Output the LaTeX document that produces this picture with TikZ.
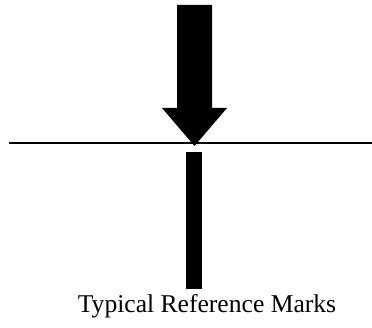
\documentclass[tikz,border=0pt]{standalone}
\usepackage{fontspec}
\setmainfont{Liberation Serif}
\usepackage{tikz}
\usetikzlibrary{positioning, calc}

\begin{document}
\begin{tikzpicture}[x=1pt, y=-1pt]
  \useasboundingbox (0, 0) rectangle (372, 328);

  % pointer arrow
  \fill[black] (177, 5) -- (212, 5) -- (212, 108) -- (227, 108) -- (194.5, 146) -- (162, 108) -- (177, 108) -- cycle;

  % reference line and mark
  \draw[line width=2.5pt] (9, 143) -- (372, 143);
  \fill[black] (186, 152) rectangle (202, 289);

  \node[font=\fontsize{25.6}{30}\selectfont, anchor=base, inner sep=0pt] (caption) at (207, 313) {Typical Reference Marks};
\end{tikzpicture}
\end{document}
